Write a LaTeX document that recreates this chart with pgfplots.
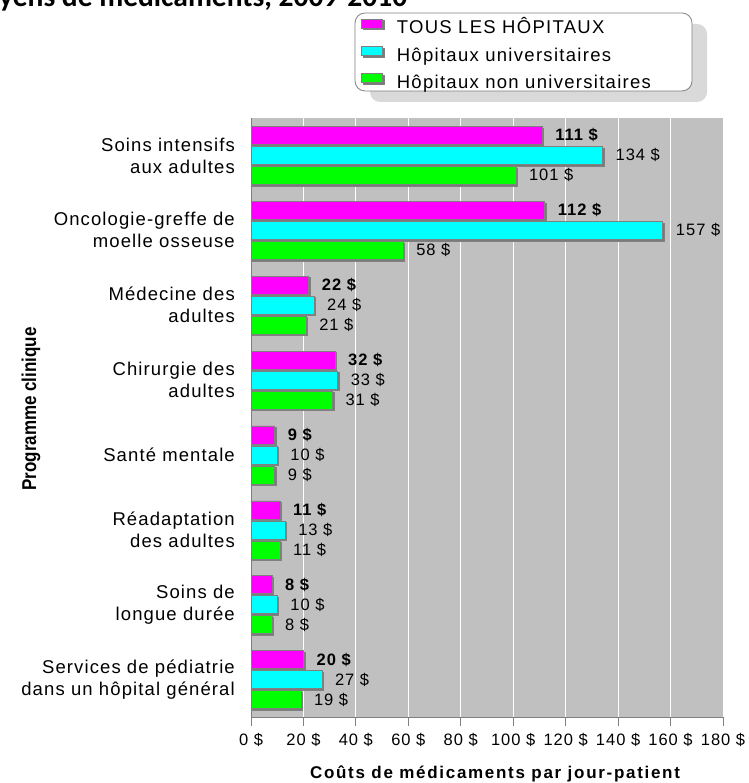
\documentclass[border=0pt]{standalone}
\usepackage{pgfplots}
\pgfplotsset{compat=1.18}
\usepackage{pgfplotstable}
\usetikzlibrary{shadows}
\usepackage{fontspec}
\setmainfont{Liberation Sans}
\newfontfamily\titlefont{Carlito}
\newfontfamily\narrowfont[FakeStretch=0.85]{Liberation Sans}

\definecolor{barmag}{HTML}{FF00FF}
\definecolor{barcyan}{HTML}{00FFFF}
\definecolor{bargreen}{HTML}{00FF00}
\definecolor{plotbg}{HTML}{C0C0C0}
\definecolor{axisgray}{HTML}{808080}
\definecolor{shadowgray}{HTML}{D9D9D9}
\definecolor{barshadow}{HTML}{7A7A7A}

\newcommand\catfont{\fontsize{18.5}{22}\selectfont\addfontfeature{LetterSpace=6}}
\newcommand\valfont{\fontsize{16.5}{18}\selectfont\addfontfeature{LetterSpace=6}}
\newcommand\valboldfont{\bfseries\fontsize{16.5}{18}\selectfont\addfontfeature{LetterSpace=6}}
\newcommand\legfont{\fontsize{18.5}{20}\selectfont\addfontfeature{LetterSpace=7}}

% drug cost per patient-day, by clinical programme (top to bottom = 8..1)
\pgfplotstableread{
pos all univ nonuniv
8 111 134 101
7 112 157 58
6 22 24 21
5 32 33 31
4 9 10 9
3 11 13 11
2 8 10 8
1 20 27 19
}\drugcost

\begin{document}
\begin{tikzpicture}
\path[use as bounding box] (0pt,0pt) rectangle (748pt,783pt);
\node[anchor=base west, inner sep=0pt, font=\titlefont\bfseries\fontsize{29.5}{32}\selectfont] at (-1pt,776pt) {yens de médicaments, 2009-2010};
% legend frame
\draw[rounded corners=10pt, draw=axisgray, line width=0.8pt, fill=white,
      drop shadow={shadow xshift=15pt, shadow yshift=-11pt, fill=shadowgray, opacity=1}]
      (355pt,692pt) rectangle (692pt,770pt);
\begin{axis}[
  at={(251pt,66pt)}, anchor=south west,
  scale only axis, width=472pt, height=599pt,
  xbar, bar width=18pt,
  xmin=0, xmax=180, ymin=0.5, ymax=8.5,
  axis background/.style={fill=plotbg},
  axis lines*=left,
  axis line style={draw=axisgray, line width=0.8pt},
  xmajorgrids, grid style={white, line width=0.8pt},
  xtick={0,20,...,180},
  xticklabels={0 \$,20 \$,40 \$,60 \$,80 \$,100 \$,120 \$,140 \$,160 \$,180 \$},
  xtick align=outside, major tick length=9pt,
  xtick style={draw=axisgray, line width=0.8pt},
  xticklabel style={font=\valfont, anchor=base, yshift=-20pt},
  ytick={1,...,8}, ytick style={draw=none},
  yticklabels={{Services de pédiatrie\\dans un hôpital général},
               {Soins de\\longue durée},
               {Réadaptation\\des adultes},
               {Santé mentale},
               {Chirurgie des\\adultes},
               {Médecine des\\adultes},
               {Oncologie-greffe de\\moelle osseuse},
               {Soins intensifs\\aux adultes}},
  yticklabel style={align=right, font=\catfont, inner sep=0pt, xshift=-7pt},
  xlabel={Coûts de médicaments par jour-patient},
  ylabel={Programme clinique},
  every axis x label/.style={at={([xshift=244pt, yshift=-61pt]rel axis cs:0,0)}, anchor=base,
      font=\bfseries\fontsize{17}{20}\selectfont\addfontfeature{LetterSpace=10}},
  every axis y label/.style={at={([xshift=-220pt, yshift=308pt]rel axis cs:0,0)}, anchor=center, rotate=90,
      font=\narrowfont\bfseries\fontsize{20}{22}\selectfont},
  /pgf/number format/assume math mode=true,
  nodes near coords={\pgfmathprintnumber{\pgfplotspointmeta}~\$},
  nodes near coords align=horizontal,
  every node near coord/.append style={anchor=west, inner sep=0pt, xshift=13pt, font=\valfont, text=black},
  legend style={at={(axis description cs:0.2331,1.1661)}, anchor=north west, draw=none, fill=none,
      inner sep=0pt, column sep=14pt, row sep=8pt, font=\legfont,
      nodes={inner sep=0pt, text height=15pt, text depth=4pt}},
  legend cell align=left,
  every axis plot post/.append style={draw=axisgray, line width=0.5pt,
      legend image code/.code={\draw[##1, draw=axisgray, line width=0.6pt] (0pt,0.5pt) rectangle (21pt,9.5pt);}},
  clip=false,
]
\addplot[fill=barmag, bar shift=20pt, drop shadow={shadow xshift=1.5pt, shadow yshift=-1.5pt, fill=barshadow, opacity=1},
  every node near coord/.append style={font=\valboldfont}] table[x=all, y=pos] {\drugcost};
\addplot[fill=barcyan, bar shift=0pt, drop shadow={shadow xshift=1.5pt, shadow yshift=-1.5pt, fill=barshadow, opacity=1}]
  table[x=univ, y=pos] {\drugcost};
\addplot[fill=bargreen, bar shift=-20pt, drop shadow={shadow xshift=1.5pt, shadow yshift=-1.5pt, fill=barshadow, opacity=1}]
  table[x=nonuniv, y=pos] {\drugcost};
\legend{TOUS LES HÔPITAUX, Hôpitaux universitaires, Hôpitaux non universitaires}
\end{axis}
\end{tikzpicture}
\end{document}
